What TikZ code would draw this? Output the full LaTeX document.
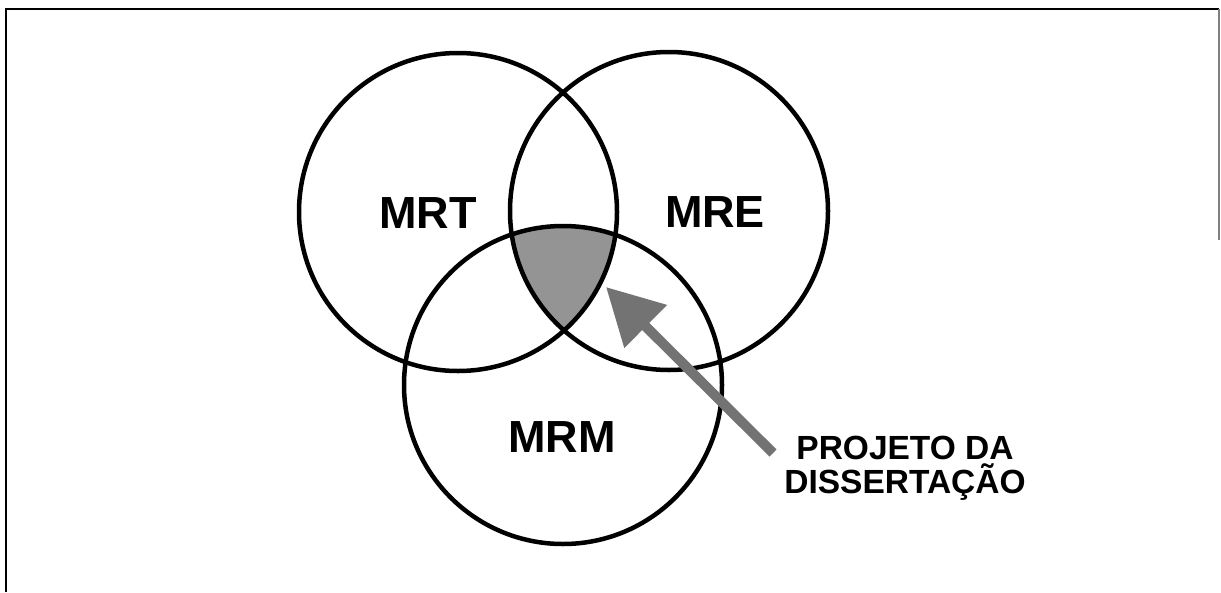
\documentclass[tikz,border=0pt]{standalone}
\usepackage{fontspec}
\setmainfont{Liberation Sans}
\usetikzlibrary{arrows.meta}
\begin{document}
\begin{tikzpicture}[x=1pt,y=-1pt,
  ring/.style={draw=black,line width=4.5pt},
  lbl/.style={font=\fontsize{45}{45}\selectfont\bfseries,anchor=base,inner sep=0pt},
  note/.style={font=\fontsize{33.5}{34}\selectfont\bfseries,align=center,inner sep=0pt},
  frameline/.style={draw=black,line width=2pt},
  pointer/.style={draw=black!55,line width=10pt,-{Triangle[length=56pt,width=58pt]}}]
\useasboundingbox (0,0) rectangle (1221,592);
% frame
\draw[frameline] (6,592) -- (6,9) -- (1219,9);
\draw[draw=black!50,line width=1.5pt] (1219,9) -- (1219,240);
% shaded common region
\begin{scope}
  \clip (458,212) circle (159pt);
  \clip (669,211) circle (159pt);
  \fill[black!42] (563,385) circle (159pt);
\end{scope}
% circles
\node[ring,circle,minimum size=318pt,inner sep=0pt] (mrt) at (458,212) {};
\node[ring,circle,minimum size=318pt,inner sep=0pt] (mre) at (669,211) {};
\node[ring,circle,minimum size=318pt,inner sep=0pt] (mrm) at (563,385) {};
% labels
\node[lbl] (tmrt) at (428,228) {MRT};
\node[lbl] (tmre) at (715,227) {MRE};
\node[lbl] (tmrm) at (562,452) {MRM};
\node[note] (proj) at (905,468) {PROJETO DA\\DISSERTAÇÃO};
% arrow
\coordinate (tail) at (773,453);
\coordinate (tip) at (606,287);
\draw[pointer] (tail) -- (tip);
\end{tikzpicture}
\end{document}
